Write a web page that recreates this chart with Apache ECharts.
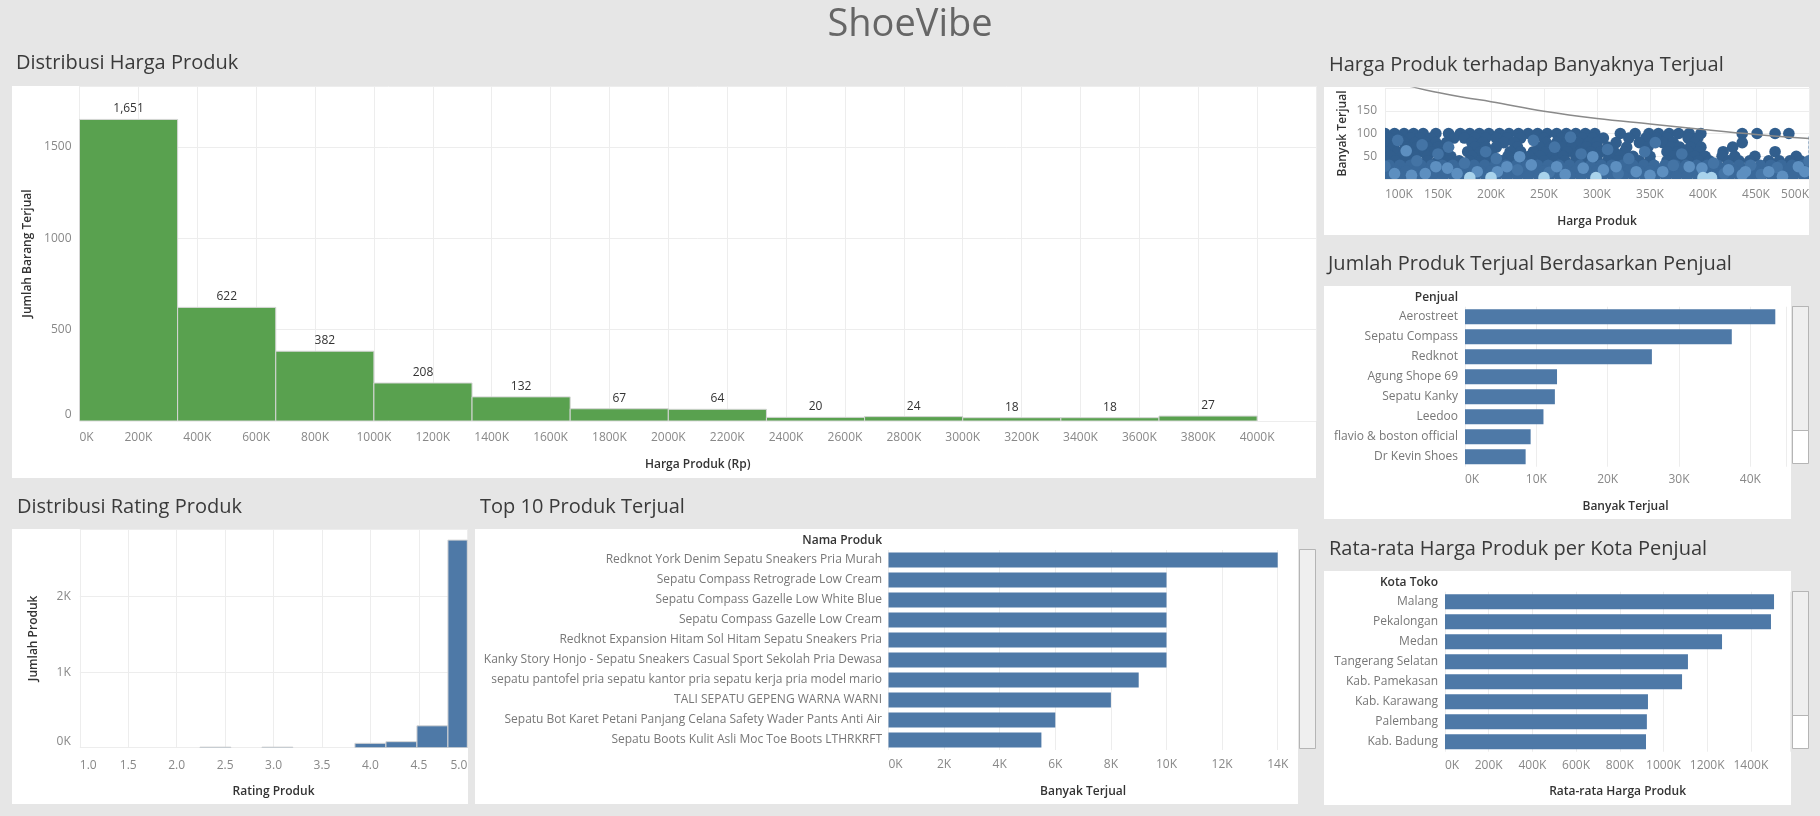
<!DOCTYPE html>
<html><head><meta charset="utf-8">
<script src="https://cdn.jsdelivr.net/npm/echarts@6/dist/echarts.min.js"></script>
<style>html,body{margin:0;padding:0;background:#e6e6e6;}#c{width:1820px;height:816px;}</style>
</head><body><div id="c"></div>
<script>
// ---------- DATA ----------
const histBinEdges = [0, 333333, 666667, 1000000, 1333333, 1666667, 2000000, 2333333, 2666667, 3000000, 3333333, 3666667, 4000000];
const histCounts = [1651, 622, 382, 208, 132, 67, 64, 20, 24, 18, 18, 27];

const ratingBinStart = [2.24, 2.88, 3.84, 4.16, 4.48, 4.80];
const ratingBinEnd   = [2.56, 3.20, 4.16, 4.48, 4.80, 5.12];
const ratingCounts   = [8, 8, 58, 80, 290, 2750];

const topProducts = [
  'Redknot York Denim Sepatu Sneakers Pria Murah',
  'Sepatu Compass Retrograde Low Cream',
  'Sepatu Compass Gazelle Low White Blue',
  'Sepatu Compass Gazelle Low Cream',
  'Redknot Expansion Hitam Sol Hitam Sepatu Sneakers Pria',
  'Kanky Story Honjo - Sepatu Sneakers Casual Sport Sekolah Pria Dewasa',
  'sepatu pantofel pria sepatu kantor pria sepatu kerja pria model mario',
  'TALI SEPATU GEPENG WARNA WARNI',
  'Sepatu Bot Karet Petani Panjang Celana Safety Wader Pants Anti Air',
  'Sepatu Boots Kulit Asli Moc Toe Boots LTHRKRFT'
];
const topSold = [14000, 10000, 10000, 10000, 10000, 10000, 9000, 8000, 6000, 5500];

const sellers = ['Aerostreet', 'Sepatu Compass', 'Redknot', 'Agung Shope 69', 'Sepatu Kanky', 'Leedoo', 'flavio & boston official', 'Dr Kevin Shoes'];
const sellerSold = [43500, 37400, 26200, 12900, 12600, 11000, 9200, 8500];

const cities = ['Malang', 'Pekalongan', 'Medan', 'Tangerang Selatan', 'Kab. Pamekasan', 'Kab. Karawang', 'Palembang', 'Kab. Badung'];
const cityAvgPrice = [1506000, 1492000, 1268000, 1112000, 1085000, 929000, 924000, 920000];

// scatter: price (K Rp) vs sold, by rows of sold value
const scatterUpperY = [100, 90, 80, 70, 60, 50, 40];
const scatterX100 = [100,109,118,127,136,148,160,171,180,189,198,208,217,226,235,244,253,262,271,280,289,298,322,336,349,358,368,377,387,398,437,451,468,481];
const scatterX90 = [104,113,124,133,143,165,175,185,195,205,215,228,250,266,276,286,296,306,330,346,356,366,386,395,505];
const scatterX80 = [100,118,128,138,148,158,182,192,212,222,252,262,272,282,292,300,318,340,352,362,372,392,437,505];
const scatterX70 = [108,120,130,140,150,185,195,205,225,246,256,266,276,290,300,310,328,348,370,378,388,398,428,505];
const scatterX60 = [100,112,124,134,144,154,178,190,200,218,228,240,252,262,272,284,294,304,316,326,346,366,376,386,396,419,468,505];
const scatterX50 = [105,116,128,140,152,162,182,194,216,226,236,246,258,268,280,290,300,312,322,334,350,372,382,392,402,418,430,449,488,505];
const scatterX40 = [100,110,120,130,140,150,160,170,180,190,200,210,220,230,240,250,260,270,280,290,300,310,320,330,340,350,366,376,386,396,406,424,434,444,462,472,482,492,502];
const scatterLowerY = [30, 18, 6];
const scatterX30 = [104,114,124,134,144,154,164,174,184,194,204,214,224,234,244,254,264,274,284,294,304,314,324,334,344,354,364,374,384,394,404,414,424,434,444,454,464,474,484,494,504];
const scatterX18 = [100,110,120,130,140,150,160,170,180,190,200,210,220,230,240,250,260,270,280,290,300,310,320,330,340,350,360,370,380,390,400,410,420,430,440,450,460,470,480,490,500];
const scatterX6 = [105,115,125,135,145,155,165,175,185,195,205,215,225,235,245,255,265,275,285,295,305,315,325,335,345,355,365,375,385,395,405,415,425,435,445,455,465,475,485,495,505];
const scatterMid = [[112,85],[135,75],[150,55],[195,60],[240,85],[260,70],[285,55],[310,65],[330,45],[355,80],[380,55],[410,35],[445,30],[470,25],[500,40],[175,35],[205,45],[225,20],[255,15],[320,12],[372,30],[420,12],[455,10],[130,40],[100,28],[160,70],[275,92],[345,60]];
const scatterLight = [[120,62],[148,27],[138,12],[159,24],[187,16],[215,27],[227,49],[238,31],[262,27],[287,24],[296,49],[306,20],[318,27],[337,16],[362,16],[387,27],[399,24],[424,20],[440,16],[462,16],[490,27],[496,16],[437,9],[109,12],[168,12],[206,16],[125,8],[270,10],[350,8],[475,6]];
const scatterPale = [[180,3],[200,3],[250,3],[299,3],[400,3],[408,3]];

const trendX = [100, 125, 150, 175, 200, 250, 300, 350, 400, 450, 500];
const trendY = [222, 203, 190, 179, 170, 149, 133, 121, 109, 98, 89];

// ---------- BUILD ----------
const FONT = 'Open Sans';
const histData = histCounts.map((c, i) => [histBinEdges[i], histBinEdges[i + 1], c]);
const ratingData = ratingCounts.map((c, i) => [ratingBinStart[i], ratingBinEnd[i], c]);
const upperRows = [scatterX100, scatterX90, scatterX80, scatterX70, scatterX60, scatterX50, scatterX40];
const lowerRows = [scatterX30, scatterX18, scatterX6];
const darkData = [];
upperRows.forEach((xs, r) => xs.forEach(x => darkData.push([x, scatterUpperY[r]])));
const lowData = [];
lowerRows.forEach((xs, r) => xs.forEach(x => lowData.push([x, scatterLowerY[r]])));
const trendData = trendX.map((x, i) => [x, trendY[i]]);

function binRender(params, api) {
  const start = api.value(0), end = api.value(1), count = api.value(2);
  const tl = api.coord([start, count]);
  const br = api.coord([end, 0]);
  const cs = params.coordSys;
  const shape = echarts.graphic.clipRectByRect(
    {x: tl[0], y: tl[1], width: br[0] - tl[0], height: br[1] - tl[1]},
    {x: cs.x, y: cs.y, width: cs.width, height: cs.height});
  if (!shape) return null;
  const children = [{type: 'rect', shape: shape, style: {fill: api.visual('color'), stroke: '#d6d6d6', lineWidth: 1}}];
  if (params.seriesName === 'hist') {
    children.push({type: 'text', x: (tl[0] + br[0]) / 2, y: tl[1] - 10.5,
      style: {text: count.toLocaleString('en-US'), align: 'center', verticalAlign: 'middle', fill: '#333', fontSize: 12, fontFamily: FONT}});
  }
  return {type: 'group', children: children};
}
function dotRender(params, api) {
  const p = api.coord([api.value(0), api.value(1)]);
  return {type: 'circle', shape: {cx: p[0], cy: p[1], r: 5.8}, style: {fill: api.visual('color')}};
}

const tickLabel = {color: '#888', fontSize: 12, fontFamily: FONT};
const axisName = {color: '#333', fontSize: 12, fontWeight: 600, fontFamily: FONT};
const split = {show: true, lineStyle: {color: '#ededed', width: 1}};
const kfmt = v => Math.round(v / 1000) + 'K';
const plain = v => String(v);

function valAxis(o) {
  return Object.assign({type: 'value', axisLine: {show: false}, axisTick: {show: false}, splitLine: split}, o);
}
function catAxis(idx, data, margin) {
  return {type: 'category', gridIndex: idx, data: data, inverse: true,
    axisLine: {show: false}, axisTick: {show: false}, splitLine: {show: false},
    axisLabel: {color: '#777', fontSize: 12, fontFamily: FONT, margin: margin}};
}

const panels = [
  [12, 86, 1304, 392], [12, 529, 456, 275], [475, 529, 823, 275],
  [1324, 87, 485, 148], [1324, 286, 467, 233], [1324, 571, 467, 234]
];
const graphics = panels.map(p => ({type: 'rect', z: -100, shape: {x: p[0], y: p[1], width: p[2], height: p[3]}, style: {fill: '#fff'}}));
function txt(t, x, y, size, color, align, weight) {
  return {type: 'text', x: x, y: y, z: 100, style: {text: t, fill: color, fontSize: size, fontFamily: FONT, fontWeight: weight || 'normal', align: align || 'left', verticalAlign: 'middle'}};
}
graphics.push(
  txt('ShoeVibe', 910, 25, 38, '#666', 'center'),
  txt('Distribusi Harga Produk', 16, 63, 20, '#3a3a3a'),
  txt('Distribusi Rating Produk', 17, 507, 20, '#3a3a3a'),
  txt('Top 10 Produk Terjual', 480, 507, 20, '#3a3a3a'),
  txt('Harga Produk terhadap Banyaknya Terjual', 1329, 65, 20, '#3a3a3a'),
  txt('Jumlah Produk Terjual Berdasarkan Penjual', 1328, 264, 20, '#3a3a3a'),
  txt('Rata-rata Harga Produk per Kota Penjual', 1329, 549, 20, '#3a3a3a'),
  txt('Nama Produk', 882, 541, 12, '#333', 'right', 600),
  txt('Penjual', 1458, 298, 12, '#333', 'right', 600),
  txt('Kota Toko', 1438, 583, 12, '#333', 'right', 600),
  {type: 'rect', z: 50, shape: {x: 1299.5, y: 549.5, width: 16, height: 199}, style: {fill: '#efefef', stroke: '#b5b5b5', lineWidth: 1}},
  {type: 'rect', z: 50, shape: {x: 1792.5, y: 306.5, width: 16, height: 157}, style: {fill: '#fff', stroke: '#b5b5b5', lineWidth: 1}},
  {type: 'rect', z: 51, shape: {x: 1792.5, y: 306.5, width: 16, height: 124}, style: {fill: '#efefef', stroke: '#b5b5b5', lineWidth: 1}},
  {type: 'rect', z: 50, shape: {x: 1792.5, y: 591.5, width: 16, height: 157}, style: {fill: '#fff', stroke: '#b5b5b5', lineWidth: 1}},
  {type: 'rect', z: 51, shape: {x: 1792.5, y: 591.5, width: 16, height: 124}, style: {fill: '#efefef', stroke: '#b5b5b5', lineWidth: 1}}
);

const option = {
  animation: false,
  backgroundColor: '#e6e6e6',
  textStyle: {fontFamily: FONT},
  graphic: {elements: graphics},
  grid: [
    {left: 79.5, top: 86, width: 1236.5, height: 335},
    {left: 79.8, top: 529, width: 387.5, height: 218.7},
    {left: 888.5, top: 550, width: 389.2, height: 200},
    {left: 1385, top: 88, width: 424, height: 91},
    {left: 1465, top: 306.7, width: 321, height: 160},
    {left: 1445, top: 591.7, width: 345.2, height: 160}
  ],
  xAxis: [
    valAxis({gridIndex: 0, min: 0, max: 4200000, interval: 200000,
      axisLabel: Object.assign({formatter: kfmt, margin: 11, showMaxLabel: false, alignMinLabel: 'left'}, tickLabel),
      name: 'Harga Produk (Rp)', nameLocation: 'middle', nameGap: 38, nameTextStyle: axisName}),
    valAxis({gridIndex: 1, min: 1, max: 5, interval: 0.5,
      axisLabel: Object.assign({formatter: v => v.toFixed(1), margin: 12, alignMinLabel: 'left', alignMaxLabel: 'right'}, tickLabel),
      name: 'Rating Produk', nameLocation: 'middle', nameGap: 38, nameTextStyle: axisName}),
    valAxis({gridIndex: 2, min: 0, max: 14000, interval: 2000,
      axisLabel: Object.assign({formatter: kfmt, margin: 9, alignMinLabel: 'left'}, tickLabel),
      name: 'Banyak Terjual', nameLocation: 'middle', nameGap: 36, nameTextStyle: axisName}),
    valAxis({gridIndex: 3, min: 100, max: 500, interval: 50,
      axisLabel: Object.assign({formatter: v => v + 'K', margin: 10, alignMinLabel: 'left', alignMaxLabel: 'right'}, tickLabel),
      name: 'Harga Produk', nameLocation: 'middle', nameGap: 37, nameTextStyle: axisName}),
    valAxis({gridIndex: 4, min: 0, max: 45000, interval: 10000,
      axisLabel: Object.assign({formatter: kfmt, margin: 7, showMaxLabel: false, alignMinLabel: 'left'}, tickLabel),
      name: 'Banyak Terjual', nameLocation: 'middle', nameGap: 34, nameTextStyle: axisName}),
    valAxis({gridIndex: 5, min: 0, max: 1580000, interval: 200000,
      axisLabel: Object.assign({formatter: kfmt, margin: 8, showMaxLabel: false, alignMinLabel: 'left'}, tickLabel),
      name: 'Rata-rata Harga Produk', nameLocation: 'middle', nameGap: 34, nameTextStyle: axisName})
  ],
  yAxis: [
    valAxis({gridIndex: 0, min: 0, max: 1834, interval: 500,
      axisLabel: Object.assign({formatter: plain, margin: 8, showMaxLabel: false, verticalAlignMinLabel: 'bottom'}, tickLabel),
      name: 'Jumlah Barang Terjual', nameLocation: 'middle', nameGap: 37, nameTextStyle: axisName}),
    valAxis({gridIndex: 1, min: 0, max: 2897, interval: 1000,
      axisLabel: Object.assign({formatter: kfmt, margin: 9, showMaxLabel: false, verticalAlignMinLabel: 'bottom'}, tickLabel),
      name: 'Jumlah Produk', nameLocation: 'middle', nameGap: 40, nameTextStyle: axisName}),
    catAxis(2, topProducts, 6.5),
    valAxis({gridIndex: 3, min: 0, max: 200, interval: 50,
      axisLabel: Object.assign({margin: 8, showMinLabel: false, showMaxLabel: false}, tickLabel),
      name: 'Banyak Terjual', nameLocation: 'middle', nameGap: 36, nameTextStyle: axisName}),
    catAxis(4, sellers, 7),
    catAxis(5, cities, 7)
  ],
  series: [
    {name: 'hist', type: 'custom', xAxisIndex: 0, yAxisIndex: 0, data: histData, renderItem: binRender, itemStyle: {color: '#59a14f'}, clip: true},
    {name: 'rating', type: 'custom', xAxisIndex: 1, yAxisIndex: 1, data: ratingData, renderItem: binRender, itemStyle: {color: '#4e79a7'}, clip: true},
    {name: 'top10', type: 'bar', xAxisIndex: 2, yAxisIndex: 2, data: topSold, barWidth: 15, itemStyle: {color: '#4e79a7'}},
    {name: 'dark', type: 'custom', xAxisIndex: 3, yAxisIndex: 3, data: darkData, renderItem: dotRender, itemStyle: {color: '#315e8d'}, clip: true},
    {name: 'low', type: 'custom', xAxisIndex: 3, yAxisIndex: 3, data: lowData, renderItem: dotRender, itemStyle: {color: '#3a699a'}, clip: true},
    {name: 'mid', type: 'custom', xAxisIndex: 3, yAxisIndex: 3, data: scatterMid, renderItem: dotRender, itemStyle: {color: '#4474a5'}, clip: true},
    {name: 'light', type: 'custom', xAxisIndex: 3, yAxisIndex: 3, data: scatterLight, renderItem: dotRender, itemStyle: {color: '#5d8fc0'}, clip: true},
    {name: 'pale', type: 'custom', xAxisIndex: 3, yAxisIndex: 3, data: scatterPale, renderItem: dotRender, itemStyle: {color: '#a9d3ec'}, clip: true},
    {name: 'trend', type: 'line', xAxisIndex: 3, yAxisIndex: 3, data: trendData, smooth: 0.4, symbol: 'none', z: 5, clip: true, lineStyle: {color: '#8a8a8a', width: 1.5}},
    {name: 'sellers', type: 'bar', xAxisIndex: 4, yAxisIndex: 4, data: sellerSold, barWidth: 15, itemStyle: {color: '#4e79a7'}},
    {name: 'cities', type: 'bar', xAxisIndex: 5, yAxisIndex: 5, data: cityAvgPrice, barWidth: 15, itemStyle: {color: '#4e79a7'}}
  ]
};
const chart = echarts.init(document.getElementById('c'), null, {renderer: 'canvas'});
chart.setOption(option);
</script></body></html>
